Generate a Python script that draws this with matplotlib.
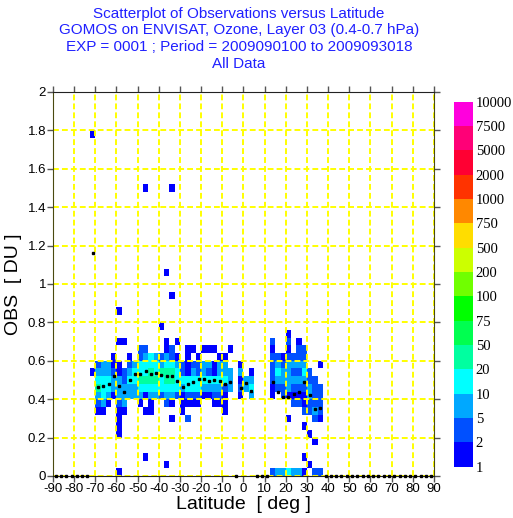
import numpy as np
import matplotlib
matplotlib.use("Agg")
import matplotlib.pyplot as plt
from matplotlib.colors import ListedColormap, BoundaryNorm

plt.rcParams["font.family"] = ["Liberation Sans", "DejaVu Sans"]
plt.rcParams["axes.unicode_minus"] = False

title_lines = [
    "Scatterplot of Observations versus Latitude",
    "GOMOS on ENVISAT, Ozone, Layer 03 (0.4-0.7 hPa)",
    "EXP = 0001 ; Period = 2009090100 to 2009093018",
    "All Data",
]

count_levels = [1, 2, 5, 10, 20, 50, 75, 100, 200, 500, 750, 1000, 2000, 5000, 7500, 10000]
level_colors = ["#0000FF", "#0050FF", "#00A8FF", "#00FFFF", "#00FFA0", "#00FF50",
                "#00FF00", "#70FF00", "#CCFF00", "#FFDD00", "#FF8800", "#FF3300",
                "#FF0033", "#FF0077", "#FF00DD"]

lat_ticks = list(range(-90, 91, 10))
obs_ticks = [0, 0.2, 0.4, 0.6, 0.8, 1.0, 1.2, 1.4, 1.6, 1.8, 2.0]
obs_tick_labels = ["0", "0.2", "0.4", "0.6", "0.8", "1", "1.2", "1.4", "1.6", "1.8", "2"]

# binned counts: columns are 2.5 deg bins from -75 to 40, rows are 0.04 DU bins
# top row = 0.84-0.88, bottom row = 0.00-0.04; characters are count classes
grid_lat0 = -75.0
lat_step = 2.5
obs_step = 0.04
grid_rows = [
    "......1...|..........|..........|..........|......",  # 0.84
    "..........|..........|..........|..........|......",  # 0.80
    "..........|....1.....|..........|..........|......",  # 0.76
    "..........|..........|..........|........1.|......",  # 0.72
    "......11..|.....1.1..|..........|.....2..2.|1.....",  # 0.68
    "..........|22...12..1|1.111..1..|.....1..1.|22....",  # 0.64
    ".....1..1.|23432321.1|.1...11...|.....22122|22....",  # 0.60
    "..23311.23|4444344321|2233133..1|.....23233|33..1.",  # 0.56
    ".133321234|4454555421|32321333.3|.1...24332|242...",  # 0.52
    "..44433244|5555455444|44444443.1|33...23333|3322..",  # 0.48
    "..54433333|4444444434|44333323.2|34...12232|22322.",  # 0.44
    "..34313333|3133233212|2211221..1|.3...1.211|11322.",  # 0.40
    "..231.23..|1.1..21.11|11..111...|.........2|21222.",  # 0.36
    "..11..11..|.11.....1.|......1...|..........|.2232.",  # 0.32
    "......1...|......1..2|..........|........1.|...21.",  # 0.28
    "......1...|..........|..........|..........|.1....",  # 0.24
    "......1...|..........|..........|..........|..1...",  # 0.20
    "..........|..........|..........|..........|...1..",  # 0.16
    "..........|..........|..........|..........|......",  # 0.12
    "..........|.1........|..........|..........|.1....",  # 0.08
    "..........|.....1....|..........|..........|..1...",  # 0.04
    "......1...|..........|..........|.....23343|31.22.",  # 0.00
]
count_of_class = {"1": 1, "2": 3, "3": 7, "4": 15, "5": 30}

outlier_lat = [-72.5, -47.5, -35.0, -37.5, -35.0]
outlier_obs = [1.76, 1.48, 1.48, 1.04, 0.92]
outlier_count = [1, 1, 1, 1, 1]

# mean OBS per 2.5 deg latitude bin (-90 .. 90); empty bins drawn at 0
mean_obs = [
    0, 0, 0, 0, 0, 0, 0, 1.16,
    0.466, 0.469, 0.478, 0.521, 0.469, 0.436, 0.499, 0.532, 0.532, 0.549,
    0.530, 0.539, 0.527, 0.523, 0.523, 0.497, 0.462, 0.481, 0.488, 0.506,
    0.507, 0.494, 0.499, 0.496, 0.481, 0.488, 0, 0.457, 0.485, 0.443,
    0, 0, 0,
    0.487, 0.440, 0.412, 0.412, 0.427, 0.440, 0.488, 0.424, 0.348, 0.353,
    0, 0, 0, 0, 0, 0, 0, 0, 0, 0, 0, 0, 0, 0, 0, 0, 0, 0, 0, 0, 0,
]
mean_lat = -90 + lat_step / 2 + lat_step * np.arange(len(mean_obs))

# build count grid
rows = [r.replace("|", "") for r in grid_rows]
n_cols = len(rows[0])
lat_edges = grid_lat0 + lat_step * np.arange(n_cols + 1)
obs_edges = obs_step * np.arange(51)
H = np.zeros((50, n_cols))
for k, row in enumerate(rows):
    r = len(rows) - 1 - k
    for c, ch in enumerate(row):
        if ch != ".":
            H[r, c] = count_of_class[ch]
for la, ob, n in zip(outlier_lat, outlier_obs, outlier_count):
    H[int(round(ob / obs_step)), int(round((la - grid_lat0) / lat_step))] = n
Hm = np.ma.masked_equal(H, 0)

cmap = ListedColormap(level_colors)
norm = BoundaryNorm(count_levels, cmap.N)

fig = plt.figure(figsize=(5.13, 5.18), dpi=100)
ax = fig.add_axes([0.1033, 0.0811, 0.7427, 0.7413])
mesh = ax.pcolormesh(lat_edges, obs_edges, Hm, cmap=cmap, norm=norm, zorder=1)
ax.plot(mean_lat, mean_obs, "s", ms=1.7, color="black", clip_on=False, zorder=5)

ax.set_xlim(-90, 90)
ax.set_ylim(0, 2)
ax.set_xticks(lat_ticks)
ax.set_yticks(obs_ticks)
ax.set_yticklabels(obs_tick_labels)
ax.set_axisbelow(False)
ax.grid(True, color="#FFFF00", linestyle=(0, (3.0, 1.6)), linewidth=1.4)
ax.tick_params(direction="out", length=4, width=1, color="#555555",
               top=True, right=True, labelsize=9.5, pad=1)
ax.set_xlabel("Latitude  [ deg ]", fontsize=14, labelpad=1)
ax.set_ylabel("OBS  [ DU ]", fontsize=14, labelpad=4)
for s in ax.spines.values():
    s.set_color("#222222")
    s.set_zorder(4)
ax.spines["left"].set_color("#4a4a10")
ax.spines["right"].set_color("#4a4a10")

fig.text(0.466, 0.987, "\n".join(title_lines), ha="center", va="top",
         color="#2020FF", fontsize=11, linespacing=1.24)

cax = fig.add_axes([0.885, 0.099, 0.037, 0.705])
cb = fig.colorbar(mesh, cax=cax, ticks=count_levels, spacing="uniform")
cb.outline.set_visible(False)
cax.tick_params(length=0, labelsize=10.5, pad=2)
for t in cax.get_yticklabels():
    t.set_family("Liberation Serif")

fig.savefig("out.png", dpi=100)
